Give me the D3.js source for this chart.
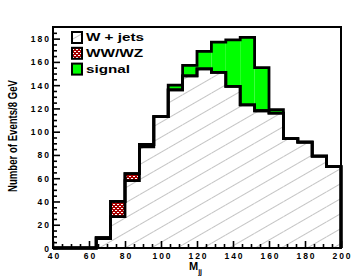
<!DOCTYPE html>
<html>
<head>
<meta charset="utf-8">
<script src="https://cdn.jsdelivr.net/npm/d3@7"></script>
<style>
	body { margin: 0; background: #fff; }
	svg { display: block; font-family: 'Liberation Sans', Arial, sans-serif; }
</style>
</head>
<body>
<svg id="chart" width="360" height="277"></svg>
<script>
// histogram contents, 8 GeV bins
const binLow = [40, 48, 56, 64, 72, 80, 88, 96, 104, 112, 120, 128, 136, 144, 152, 160, 168, 176, 184, 192]
const wjets  = [0, 0, 0, 8, 27, 58, 87, 113, 136, 148, 154, 151, 139, 123, 118, 116, 94, 91, 79, 70]
const wwwz   = [0, 0, 0, 1, 13, 6, 2, 0, 0, 0, 0, 0, 0, 0, 0, 0, 0, 0, 0, 0]
const signal = [0, 0, 0, 0, 0, 0, 0, 0, 4, 9, 15, 26, 40, 58, 37, 3, 0, 0, 0, 0]
const binWidth = 8

const xTicks = [40, 60, 80, 100, 120, 140, 160, 180, 200]
const yTicks = [0, 20, 40, 60, 80, 100, 120, 140, 160, 180]
const legendLabels = ['W + jets', 'WW/WZ', 'signal']

const svg = d3.select('#chart')
const width = +svg.attr('width')
const height = +svg.attr('height')

const margin = {top: 27, right: 19, bottom: 29, left: 53}
const innerWidth = width - margin.left - margin.right
const innerHeight = height - margin.top - margin.bottom

const keys = ['wjets', 'wwwz', 'signal']
const data = binLow.map((lo, i) => ({lo: lo, wjets: wjets[i], wwwz: wwwz[i], signal: signal[i]}))

// fill patterns
const defs = svg.append('defs')

const hatch = defs.append('pattern')
	.attr('id', 'hatch')
	.attr('patternUnits', 'userSpaceOnUse')
	.attr('width', 13)
	.attr('height', 13)
	.attr('patternTransform', 'rotate(-30)')
hatch.append('rect').attr('width', 13).attr('height', 13).attr('fill', '#fff')
hatch.append('line')
	.attr('x1', 0).attr('x2', 13)
	.attr('y1', 6.5).attr('y2', 6.5)
	.attr('stroke', '#c4c4c4')
	.attr('stroke-width', 1)

const checker = defs.append('pattern')
	.attr('id', 'checker')
	.attr('patternUnits', 'userSpaceOnUse')
	.attr('width', 4)
	.attr('height', 4)
checker.append('rect').attr('width', 4).attr('height', 4).attr('fill', '#a80000')
checker.append('rect').attr('x', 0).attr('y', 1).attr('width', 2).attr('height', 1).attr('fill', '#fff')
checker.append('rect').attr('x', 2).attr('y', 3).attr('width', 2).attr('height', 1).attr('fill', '#fff')

const fills = {wjets: 'url(#hatch)', wwwz: 'url(#checker)', signal: '#00ff00'}

const g = svg.append('g')
	.attr('transform', `translate(${margin.left}, ${margin.top})`)

const xScale = d3.scaleLinear()
	.domain([40, 200])
	.range([0, innerWidth])

const yScale = d3.scaleLinear()
	.domain([0, 190])
	.range([innerHeight, 0])

const stackedData = d3.stack()
	.keys(keys)
	(data)

// filled bins
g.append('g')
	.selectAll('g')
	.data(stackedData)
	.enter().append('g')
	.attr('fill', d => fills[d.key])
	.selectAll('rect')
	.data(d => d)
	.enter().append('rect')
	.attr('x', d => xScale(d.data.lo))
	.attr('y', d => yScale(d[1]))
	.attr('width', d => xScale(d.data.lo + binWidth) - xScale(d.data.lo))
	.attr('height', d => yScale(d[0]) - yScale(d[1]))

// step outlines of each cumulative level
const step = d3.line()
	.x(d => xScale(d[0]))
	.y(d => yScale(d[1]))
	.curve(d3.curveStepAfter)

stackedData.forEach(layer => {
	const pts = layer.map(d => [d.data.lo, d[1]])
	const last = layer[layer.length - 1]
	pts.push([last.data.lo + binWidth, last[1]])
	pts.push([last.data.lo + binWidth, 0])
	g.append('path')
		.attr('d', step(pts))
		.attr('fill', 'none')
		.attr('stroke', '#000')
		.attr('stroke-width', 2.8)
		.attr('stroke-linejoin', 'miter')
})

// frame
g.append('rect')
	.attr('width', innerWidth)
	.attr('height', innerHeight)
	.attr('fill', 'none')
	.attr('stroke', '#000')
	.attr('stroke-width', 2)

// axes, ticks pointing inside
const yAxis = d3.axisLeft(yScale)
	.tickValues(yTicks)
	.tickSize(-7)
	.tickPadding(2)

const xAxis = d3.axisBottom(xScale)
	.tickValues(xTicks)
	.tickSize(-7)
	.tickPadding(5)

const yAxisData = g.append('g').call(yAxis)
yAxisData.select('.domain').remove()

const xAxisData = g.append('g').call(xAxis)
	.attr('transform', `translate(0, ${innerHeight})`)
xAxisData.select('.domain').remove()

const yMinor = d3.range(0, 190, 5).filter(v => v % 20 != 0)
const xMinor = d3.range(40, 200, 5).filter(v => v % 20 != 0)

const yMinorData = g.append('g').call(d3.axisLeft(yScale).tickValues(yMinor).tickSize(-4))
yMinorData.select('.domain').remove()
yMinorData.selectAll('text').remove()

const xMinorData = g.append('g').call(d3.axisBottom(xScale).tickValues(xMinor).tickSize(-4))
	.attr('transform', `translate(0, ${innerHeight})`)
xMinorData.select('.domain').remove()
xMinorData.selectAll('text').remove()

g.selectAll('.tick line')
	.attr('stroke', '#000')
	.attr('stroke-width', 1.6)

g.selectAll('.tick text')
	.attr('font-family', "'Liberation Sans', Arial, sans-serif")
	.attr('font-size', 8.5)
	.attr('font-weight', 'bold')
	.attr('letter-spacing', 2)
	.attr('fill', '#000')

// plain pixel offsets instead of em shifts
yAxisData.selectAll('text').attr('dy', null).attr('y', 3)
xAxisData.selectAll('text').attr('dy', null).attr('y', 11).attr('dx', 1)

// legend
const legend = svg.append('g')
	.attr('transform', 'translate(72, 32)')

legendLabels.forEach((label, i) => {
	legend.append('rect')
		.attr('x', 0)
		.attr('y', i * 15.8)
		.attr('width', 10)
		.attr('height', 11)
		.attr('fill', fills[keys[i]])
		.attr('stroke', '#000')
		.attr('stroke-width', 2)
	legend.append('text')
		.attr('x', 14)
		.attr('y', 9 + i * 15.8)
		.attr('font-size', 10)
		.attr('font-weight', 'bold')
		.attr('textLength', [58, 57, 44][i])
		.attr('lengthAdjust', 'spacingAndGlyphs')
		.text(label)
})

// axis titles
svg.append('text')
	.attr('transform', 'translate(17, 136) rotate(-90)')
	.attr('text-anchor', 'middle')
	.attr('font-size', 12)
	.attr('font-weight', 'bold')
	.attr('textLength', 112)
	.attr('lengthAdjust', 'spacingAndGlyphs')
	.text('Number of Events/8 GeV')

const xTitle = svg.append('text')
	.attr('x', 189)
	.attr('y', 270)
	.attr('font-size', 11)
	.attr('font-weight', 'bold')
xTitle.append('tspan').text('M')
xTitle.append('tspan')
	.attr('font-size', 7)
	.attr('dy', 3.5)
	.text('jj')
</script>
</body>
</html>
